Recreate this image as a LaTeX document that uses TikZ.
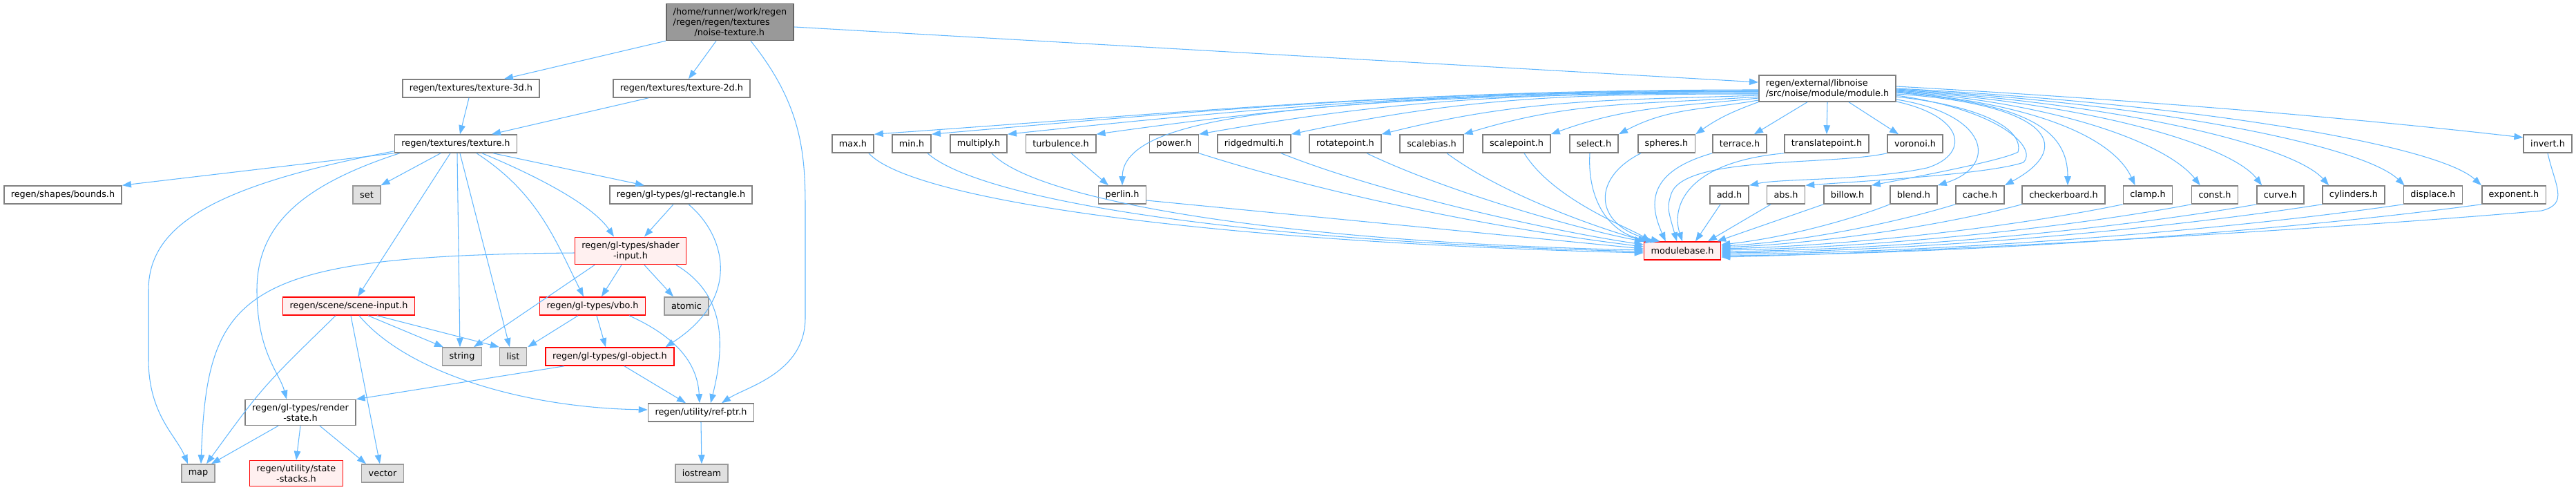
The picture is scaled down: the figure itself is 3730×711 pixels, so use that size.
\documentclass[tikz,border=0pt]{standalone}
\usepackage{fontspec}
\setmainfont{DejaVu Sans}
\usetikzlibrary{arrows.meta,calc}
\definecolor{edgeblue}{HTML}{63B8FF}
\definecolor{boxline}{HTML}{808080}
\definecolor{rootfill}{HTML}{999999}
\definecolor{rootline}{HTML}{666666}
\definecolor{redfill}{HTML}{FFF0F0}
\definecolor{sysfill}{HTML}{E0E0E0}
\definecolor{sysline}{HTML}{999999}
\tikzset{
  filebox/.style={draw=boxline,fill=white,line width=0.9pt,minimum height=0.52cm,
                  inner xsep=0.2cm,inner ysep=0.12cm,font=\fontsize{7.3}{8.5}\selectfont},
  rootbox/.style={filebox,draw=rootline,fill=rootfill},
  redbox/.style={filebox,draw=red,fill=redfill},
  sysbox/.style={filebox,draw=sysline,fill=sysfill},
  inclarr/.style={-{Triangle[length=0.26cm,width=0.19cm]},draw=edgeblue,
                  line width=0.6pt}
}
\begin{document}
\begin{tikzpicture}[x=0.02cm,y=-0.02cm]
  \useasboundingbox (0,0) rectangle (3730,711);

  \node[rootbox,align=left] (nt) at (1057,32)
    {/home/runner/work/regen\\/regen/regen/textures\\\hspace*{2.4em}/noise-texture.h};
  \node[filebox] (t3d) at (682,128) {regen/textures/texture-3d.h};
  \node[filebox] (t2d) at (987,128) {regen/textures/texture-2d.h};
  \node[filebox,align=left] (module) at (2646,128)
    {regen/external/libnoise\\/src/noise/module/module.h};

  \node[filebox] (tex) at (660,208) {regen/textures/texture.h};
  \node[filebox] (maxh) at (1235,208) {max.h};
  \node[filebox] (minh) at (1320,208) {min.h};
  \node[filebox] (multiplyh) at (1417,208) {multiply.h};
  \node[filebox] (turbulenceh) at (1536,208) {turbulence.h};
  \node[filebox] (powerh) at (1700,208) {power.h};
  \node[filebox] (ridgedmultih) at (1816,208) {ridgedmulti.h};
  \node[filebox] (rotatepointh) at (1948,208) {rotatepoint.h};
  \node[filebox] (scalebiash) at (2073,208) {scalebias.h};
  \node[filebox] (scalepointh) at (2196,208) {scalepoint.h};
  \node[filebox] (selecth) at (2308,208) {select.h};
  \node[filebox] (spheresh) at (2413,208) {spheres.h};
  \node[filebox] (terraceh) at (2519,208) {terrace.h};
  \node[filebox] (translatepointh) at (2645,208) {translatepoint.h};
  \node[filebox] (voronoih) at (2773,208) {voronoi.h};
  \node[filebox] (inverth) at (3689,208) {invert.h};

  \node[filebox] (bounds) at (91,282) {regen/shapes/bounds.h};
  \node[sysbox] (set) at (531,282) {set};
  \node[filebox] (glrect) at (986,282) {regen/gl-types/gl-rectangle.h};
  \node[filebox] (perlinh) at (1625,282) {perlin.h};
  \node[filebox] (addh) at (2504,282) {add.h};
  \node[filebox] (absh) at (2586,282) {abs.h};
  \node[filebox] (billowh) at (2675,282) {billow.h};
  \node[filebox] (blendh) at (2771,282) {blend.h};
  \node[filebox] (cacheh) at (2867,282) {cache.h};
  \node[filebox] (checkerboardh) at (2988,282) {checkerboard.h};
  \node[filebox] (clamph) at (3110,282) {clamp.h};
  \node[filebox] (consth) at (3207,282) {const.h};
  \node[filebox] (curveh) at (3302,282) {curve.h};
  \node[filebox] (cylindersh) at (3408,282) {cylinders.h};
  \node[filebox] (displaceh) at (3523,282) {displace.h};
  \node[filebox] (exponenth) at (3640,282) {exponent.h};

  \node[redbox,align=center] (shaderinput) at (913,363) {regen/gl-types/shader\\-input.h};
  \node[redbox] (modulebase) at (2436,363) {modulebase.h};

  \node[redbox] (sceneinput) at (505,443) {regen/scene/scene-input.h};
  \node[redbox] (vbo) at (858,443) {regen/gl-types/vbo.h};
  \node[sysbox] (atomic) at (994,443) {atomic};

  \node[sysbox] (string) at (669,516) {string};
  \node[sysbox] (list) at (743,516) {list};
  \node[redbox] (globject) at (883,516) {regen/gl-types/gl-object.h};

  \node[filebox,align=center] (renderstate) at (435,597) {regen/gl-types/render\\-state.h};
  \node[filebox] (refptr) at (1015,597) {regen/utility/ref-ptr.h};

  \node[sysbox] (map) at (287,685) {map};
  \node[redbox,align=center] (statestacks) at (429,685) {regen/utility/state\\-stacks.h};
  \node[sysbox] (vector) at (554,685) {vector};
  \node[sysbox] (iostream) at (1016,685) {iostream};

  \draw[inclarr] (nt.south west) -- ($(t3d.north)+(48,0)$);
  \draw[inclarr] ($(nt.south)+(-20,0)$) -- ($(t2d.north)+(10,0)$);
  \draw[inclarr] ($(nt.east)+(0,7)$) -- ($(module.west)+(0,-9)$);
  \draw[inclarr] ($(nt.south)+(30,0)$) .. controls (1160,150) and (1166,220) .. (1166,300)
    -- (1166,460) .. controls (1166,540) and (1080,560) .. ($(refptr.north)+(30,0)$);

  \draw[inclarr] ($(t3d.south)+(-3,0)$) -- ($(tex.north)+(6,0)$);
  \draw[inclarr] ($(t2d.south)+(-48,0)$) -- ($(tex.north)+(52,0)$);

  \draw[inclarr] (tex.south west) -- (bounds.north east);
  \draw[inclarr] ($(tex.south west)+(0,-3)$) .. controls (300,270) and (215,330) .. (215,420)
    -- (215,520) .. controls (215,600) and (255,630) .. ($(map.north)+(-15,0)$);
  \draw[inclarr] ($(tex.south west)+(8,0)$) .. controls (430,270) and (372,330) .. (372,420)
    .. controls (372,510) and (405,540) .. ($(renderstate.north)+(-20,0)$);
  \draw[inclarr] ($(tex.south)+(-22,0)$) -- (set.north east);
  \draw[inclarr] ($(tex.south)+(-8,0)$) -- ($(sceneinput.north)+(13,0)$);
  \draw[inclarr] ($(tex.south)+(2,0)$) -- ($(string.north)+(-3,0)$);
  \draw[inclarr] ($(tex.south)+(6,0)$) -- ($(list.north)+(-5,0)$);
  \draw[inclarr] ($(tex.south)+(30,0)$) .. controls (780,280) and (805,350) .. ($(vbo.north)+(-13,0)$);
  \draw[inclarr] ($(tex.south)+(38,0)$) .. controls (790,260) and (860,300) .. ($(shaderinput.north)+(-24,0)$);
  \draw[inclarr] ($(tex.south)+(54,0)$) -- ($(glrect.north)+(-53,0)$);

  \draw[inclarr] ($(glrect.south)+(-11,0)$) -- ($(shaderinput.north)+(20,0)$);
  \draw[inclarr] ($(glrect.south)+(11,0)$) .. controls (1050,340) and (1075,430) .. ($(globject.north east)+(-13,0)$);

  \draw[inclarr] ($(shaderinput.west)+(0,3)$) .. controls (350,370) and (300,420) .. ($(map.north)+(4,0)$);
  \draw[inclarr] ($(shaderinput.south)+(-52,0)$) -- ($(string.north)+(17,0)$);
  \draw[inclarr] ($(shaderinput.south)+(-13,0)$) -- ($(vbo.north)+(13,0)$);
  \draw[inclarr] ($(shaderinput.south)+(20,0)$) -- ($(atomic.north)+(-19,0)$);
  \draw[inclarr] ($(shaderinput.south)+(66,0)$) .. controls (1040,420) and (1055,480) .. ($(refptr.north)+(14,0)$);

  \draw[inclarr] ($(sceneinput.south)+(-19,0)$) .. controls (380,560) .. ($(map.north)+(12,0)$);
  \draw[inclarr] ($(sceneinput.south)+(3,0)$) -- ($(vector.north)+(-4,0)$);
  \draw[inclarr] ($(sceneinput.south)+(28,0)$) -- ($(string.north)+(-27,0)$);
  \draw[inclarr] ($(sceneinput.south)+(41,0)$) -- (list.north west);
  \draw[inclarr] ($(sceneinput.south)+(15,0)$) .. controls (590,540) and (760,590) .. ($(refptr.west)+(0,-4)$);

  \draw[inclarr] ($(vbo.south)+(-21,0)$) -- ($(list.north east)+(1,0)$);
  \draw[inclarr] ($(vbo.south)+(6,0)$) -- ($(globject.north)+(-6,0)$);
  \draw[inclarr] ($(vbo.south)+(53,0)$) .. controls (985,490) and (1010,530) .. ($(refptr.north)+(-2,0)$);

  \draw[inclarr] ($(globject.south)+(-66,0)$) -- (renderstate.north east);
  \draw[inclarr] ($(globject.south)+(21,0)$) -- ($(refptr.north)+(-22,0)$);

  \draw[inclarr] ($(renderstate.south)+(-32,0)$) -- ($(map.north east)+(-6,0)$);
  \draw[inclarr] (renderstate.south) -- (statestacks.north);
  \draw[inclarr] ($(renderstate.south)+(28,0)$) -- ($(vector.north)+(-24,0)$);

  \draw[inclarr] (refptr.south) -- (iostream.north);

  \draw[inclarr] ($(module.west)+(0,2)$) to[out=180,in=4] (maxh.north east);
  \draw[inclarr] ($(module.west)+(0,3)$) to[out=180,in=5] (minh.north east);
  \draw[inclarr] ($(module.west)+(0,4)$) to[out=180,in=6] (multiplyh.north east);
  \draw[inclarr] ($(module.west)+(0,5)$) to[out=180,in=8] (turbulenceh.north east);
  \draw[inclarr] ($(module.west)+(0,4)$) .. controls (1900,140) and (1626,165) .. (perlinh.north);
  \draw[inclarr] ($(module.west)+(0,7)$) to[out=180,in=10] (powerh.north east);
  \draw[inclarr] ($(module.west)+(0,8)$) to[out=180,in=12] (ridgedmultih.north east);
  \draw[inclarr] ($(module.west)+(0,10)$) to[out=182,in=14] (rotatepointh.north east);
  \draw[inclarr] ($(module.west)+(0,12)$) to[out=184,in=17] (scalebiash.north east);
  \draw[inclarr] ($(module.west)+(0,14)$) to[out=186,in=20] (scalepointh.north east);
  \draw[inclarr] ($(module.west)+(0,17)$) to[out=190,in=28] (selecth.north east);
  \draw[inclarr] (module.south west) to[out=200,in=35] (spheresh.north east);
  \draw[inclarr] ($(module.south west)+(71,0)$) -- ($(terraceh.north east)+(-19,0)$);
  \draw[inclarr] (module.south) -- (translatepointh.north);
  \draw[inclarr] ($(module.south)+(31,0)$) -- ($(voronoih.north)+(-24,0)$);
  \draw[inclarr] ($(module.east)+(0,19)$) .. controls (2850,170) and (2850,225) .. (2790,243)
    .. controls (2700,262) and (2580,258) .. (addh.north east);
  \draw[inclarr] ($(module.east)+(0,10)$) .. controls (2900,160) and (2950,215) .. (2930,235)
    .. controls (2880,252) and (2700,262) .. (absh.north east);
  \draw[inclarr] ($(module.east)+(0,12)$) .. controls (2880,155) and (2930,190) .. (2922,220)
    .. controls (2900,232) and (2780,255) .. (billowh.north east);
  \draw[inclarr] ($(module.east)+(0,16)$) .. controls (2880,165) and (2895,240) .. (blendh.north east);
  \draw[inclarr] ($(module.east)+(0,8)$) .. controls (2960,150) and (3010,210) .. (cacheh.north east);
  \draw[inclarr] ($(module.east)+(0,6)$) .. controls (2940,150) and (2994,190) .. ($(checkerboardh.north)+(6,0)$);
  \draw[inclarr] ($(module.east)+(0,5)$) .. controls (2950,150) and (3060,200) .. ($(clamph.north west)+(18,0)$);
  \draw[inclarr] ($(module.east)+(0,4)$) .. controls (2990,150) and (3140,210) .. ($(consth.north west)+(13,0)$);
  \draw[inclarr] ($(module.east)+(0,3)$) .. controls (3030,150) and (3230,210) .. ($(curveh.north west)+(8,0)$);
  \draw[inclarr] ($(module.east)+(0,2)$) .. controls (3070,150) and (3320,210) .. ($(cylindersh.north west)+(10,0)$);
  \draw[inclarr] ($(module.east)+(0,1)$) .. controls (3120,150) and (3420,210) .. ($(displaceh.north west)+(2,0)$);
  \draw[inclarr] (module.east) .. controls (3180,150) and (3530,210) .. (exponenth.north west);
  \draw[inclarr] ($(module.east)+(0,-3)$) .. controls (3100,145) and (3400,170) .. ($(inverth.west)+(0,-9)$);

  \draw[inclarr] ($(turbulenceh.south)+(15,0)$) -- ($(perlinh.north)+(-20,0)$);

  \draw[inclarr] ($(maxh.south)+(23,0)$) .. controls (1320,290) and (1750,350) .. ($(modulebase.west)+(0,3)$);
  \draw[inclarr] ($(minh.south east)+(-6,0)$) .. controls (1420,290) and (1800,350) .. ($(modulebase.west)+(0,1)$);
  \draw[inclarr] ($(multiplyh.south)+(19,0)$) .. controls (1500,290) and (1850,350) .. ($(modulebase.west)+(0,-1)$);
  \draw[inclarr] ($(perlinh.east)+(0,8)$) -- ($(modulebase.west)+(0,-3)$);
  \draw[inclarr] (powerh.south east) .. controls (1950,290) and (2200,335) .. ($(modulebase.west)+(0,-6)$);
  \draw[inclarr] ($(ridgedmultih.south)+(39,0)$) .. controls (2000,280) and (2250,335) .. ($(modulebase.west)+(0,-9)$);
  \draw[inclarr] ($(rotatepointh.south)+(31,0)$) .. controls (2100,280) and (2300,335) .. (modulebase.north west);
  \draw[inclarr] ($(scalebiash.south)+(22,0)$) .. controls (2180,285) and (2330,335) .. ($(modulebase.north west)+(5,0)$);
  \draw[inclarr] ($(scalepointh.south)+(11,0)$) .. controls (2250,290) and (2360,330) .. ($(modulebase.north west)+(10,0)$);
  \draw[inclarr] ($(selecth.south)+(-6,0)$) .. controls (2298,290) and (2330,340) .. ($(modulebase.north west)+(16,0)$);
  \draw[inclarr] ($(spheresh.south west)+(5,0)$) .. controls (2300,260) and (2310,330) .. ($(modulebase.north west)+(24,0)$);
  \draw[inclarr] (terraceh.south west) .. controls (2380,250) and (2390,300) .. ($(modulebase.north west)+(32,0)$);
  \draw[inclarr] (translatepointh.south west) .. controls (2440,235) and (2420,300) .. (modulebase.north);
  \draw[inclarr] (voronoih.south west) .. controls (2650,240) and (2440,225) .. (2420,280)
    .. controls (2414,300) .. ($(modulebase.north)+(-8,0)$);
  \draw[inclarr] ($(addh.south)+(-13,0)$) -- ($(modulebase.north)+(19,0)$);
  \draw[inclarr] ($(absh.south)+(-22,0)$) -- ($(modulebase.north)+(37,0)$);
  \draw[inclarr] (billowh.south west) -- ($(modulebase.north east)+(-6,0)$);
  \draw[inclarr] (blendh.south west) .. controls (2675,320) and (2578,345) .. ($(modulebase.east)+(0,-9)$);
  \draw[inclarr] (cacheh.south west) .. controls (2746,322) and (2611,350) .. ($(modulebase.east)+(0,-7)$);
  \draw[inclarr] (checkerboardh.south west) .. controls (2819,325) and (2645,352) .. ($(modulebase.east)+(0,-5)$);
  \draw[inclarr] (clamph.south west) .. controls (2928,326) and (2696,355) .. ($(modulebase.east)+(0,-3)$);
  \draw[inclarr] (consth.south west) .. controls (3002,328) and (2731,358) .. ($(modulebase.east)+(0,-1)$);
  \draw[inclarr] (curveh.south west) .. controls (3073,330) and (2764,361) .. ($(modulebase.east)+(0,1)$);
  \draw[inclarr] (cylindersh.south west) .. controls (3144,330) and (2797,363) .. ($(modulebase.east)+(0,3)$);
  \draw[inclarr] (displaceh.south west) .. controls (3232,332) and (2838,365) .. ($(modulebase.east)+(0,5)$);
  \draw[inclarr] (exponenth.south west) .. controls (3317,333) and (2878,367) .. ($(modulebase.east)+(0,7)$);
  \draw[inclarr] (inverth.south) .. controls (3700,270) and (3720,295) .. (3680,305)
    .. controls (3400,330) and (2800,365) .. ($(modulebase.east)+(0,9)$);
\end{tikzpicture}
\end{document}
